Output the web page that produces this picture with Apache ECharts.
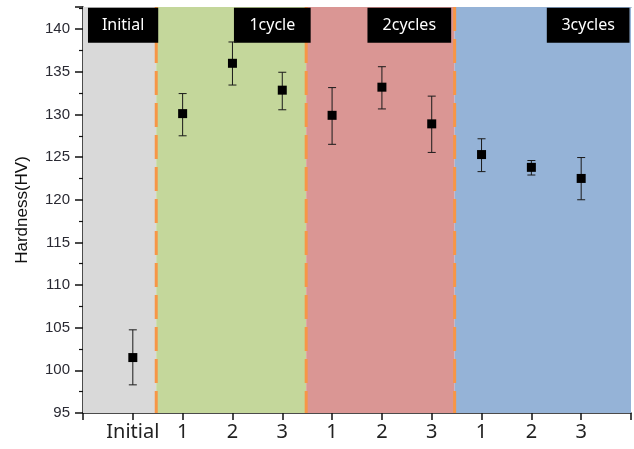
<!DOCTYPE html>
<html>
<head>
<meta charset="utf-8">
<script src="https://cdn.jsdelivr.net/npm/echarts@6/dist/echarts.min.js"></script>
<style>html,body{margin:0;padding:0;background:#fff;}#c{width:634px;height:449px;}</style>
</head>
<body>
<div id="c"></div>
<script>
// ---- data ----
var categories = ['Initial', '1', '2', '3', '1', '2', '3', '1', '2', '3'];
var hardness = [101.5, 130.1, 136.0, 132.85, 129.9, 133.2, 128.9, 125.3, 123.8, 122.5];
var upperErr = [104.75, 132.45, 138.5, 134.95, 133.15, 135.6, 132.15, 127.15, 124.6, 124.95];
var lowerErr = [98.3, 127.5, 133.45, 130.55, 126.5, 130.65, 125.55, 123.3, 122.9, 120.0];
var groupNames = ['Initial', '1cycle', '2cycles', '3cycles'];
var groupBounds = [0, 1.47, 4.48, 7.46, 11];
var groupColors = ['#d9d9d9', '#c4d79b', '#da9694', '#95b3d7'];
var labelBoxStart = [0.1, 3.03, 5.71, 9.31];
var labelBoxEnd = [1.51, 4.57, 7.39, 10.97];

var Y_MIN = 95, Y_MAX = 142.6;
var chart = echarts.init(document.getElementById('c'));
var pts = hardness.map(function (v, i) { return [i + 1, v]; });
var errData = hardness.map(function (v, i) { return [i + 1, lowerErr[i], upperErr[i]]; });
var bgData = groupNames.map(function (n, i) { return [groupBounds[i], groupBounds[i + 1], i]; });
var lineData = groupBounds.slice(1, 4).map(function (b) { return [b]; });
var boxData = groupNames.map(function (n, i) { return [labelBoxStart[i], labelBoxEnd[i], i]; });

chart.setOption({
  animation: false,
  grid: { left: 83, right: 1, top: 7, bottom: 36 },
  xAxis: [{
    type: 'value', min: 0, max: 11, interval: 1,
    axisLine: { lineStyle: { color: '#111', width: 1.5 } },
    axisTick: { inside: false, length: 7, lineStyle: { color: '#111', width: 1.5 } },
    splitLine: { show: false },
    axisLabel: {
      margin: 9, fontFamily: 'Noto Sans', fontSize: 20, color: '#222',
      formatter: function (v) { return (v >= 1 && v <= 10) ? categories[v - 1] : ''; }
    }
  }, {
    type: 'value', min: 0, max: 11, position: 'top',
    axisLine: { show: true, lineStyle: { color: '#777', width: 1 } },
    axisTick: { show: false }, axisLabel: { show: false }, splitLine: { show: false }
  }],
  yAxis: {
    type: 'value', min: Y_MIN, max: Y_MAX, interval: 5,
    name: 'Hardness(HV)', nameLocation: 'middle', nameGap: 52, nameRotate: 90,
    nameTextStyle: { fontFamily: 'Liberation Sans', fontSize: 17, color: '#111' },
    axisLine: { show: true, lineStyle: { color: '#111', width: 1.5 } },
    axisTick: { show: true, inside: false, length: 8, lineStyle: { color: '#111', width: 1.5 } },
    minorTick: { show: true, splitNumber: 2, length: 4, lineStyle: { color: '#111', width: 1.2 } },
    splitLine: { show: false },
    axisLabel: {
      margin: 13, fontFamily: 'Liberation Sans', fontSize: 15, color: '#2a2a33',
      formatter: function (v) { return v <= 140 ? String(v) : ''; }
    }
  },
  series: [{
    type: 'custom', z: 1, data: bgData, silent: true,
    renderItem: function (params, api) {
      var p0 = api.coord([api.value(0), Y_MAX]);
      var p1 = api.coord([api.value(1), Y_MIN]);
      return { type: 'rect', shape: { x: p0[0], y: p0[1], width: p1[0] - p0[0], height: p1[1] - p0[1] },
               style: { fill: groupColors[api.value(2)] } };
    }
  }, {
    type: 'custom', z: 2, data: lineData, silent: true,
    renderItem: function (params, api) {
      var a = api.coord([api.value(0), Y_MAX]);
      var b = api.coord([api.value(0), Y_MIN]);
      return { type: 'line', shape: { x1: a[0], y1: a[1], x2: b[0], y2: b[1] },
               style: { stroke: '#f79646', lineWidth: 3, lineDash: [24, 8] } };
    }
  }, {
    type: 'custom', z: 3, data: boxData, silent: true,
    renderItem: function (params, api) {
      var p0 = api.coord([api.value(0), 142.5]);
      var p1 = api.coord([api.value(1), 138.4]);
      var i = api.value(2);
      return { type: 'group', children: [
        { type: 'rect', shape: { x: p0[0], y: p0[1], width: p1[0] - p0[0], height: p1[1] - p0[1] },
          style: { fill: '#000' } },
        { type: 'text', x: (p0[0] + p1[0]) / 2, y: (p0[1] + p1[1]) / 2,
          style: { text: groupNames[i], fill: '#fff', font: '16px "Noto Sans"', align: 'center', verticalAlign: 'middle' } }
      ]};
    }
  }, {
    type: 'custom', z: 4, data: errData, silent: true,
    renderItem: function (params, api) {
      var x = api.value(0);
      var lo = api.coord([x, api.value(1)]);
      var hi = api.coord([x, api.value(2)]);
      var w = 4;
      var st = { stroke: '#1a1a1a', lineWidth: 1 };
      return { type: 'group', children: [
        { type: 'line', shape: { x1: hi[0], y1: hi[1], x2: lo[0], y2: lo[1] }, style: st },
        { type: 'line', shape: { x1: hi[0] - w, y1: hi[1], x2: hi[0] + w, y2: hi[1] }, style: st },
        { type: 'line', shape: { x1: lo[0] - w, y1: lo[1], x2: lo[0] + w, y2: lo[1] }, style: st }
      ]};
    }
  }, {
    type: 'scatter', z: 5, data: pts, symbol: 'rect', symbolSize: 9,
    itemStyle: { color: '#000', opacity: 1 }
  }]
});
</script>
</body>
</html>
